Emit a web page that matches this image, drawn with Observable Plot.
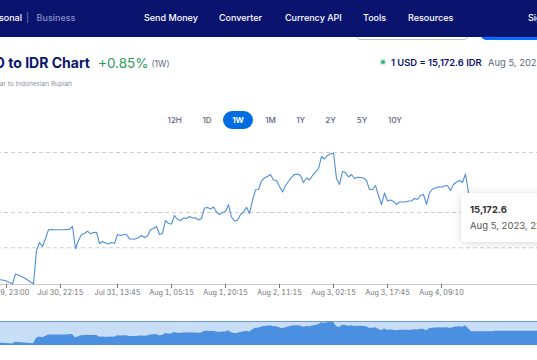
<!DOCTYPE html>
<html>
<head>
<meta charset="utf-8">
<script src="https://cdn.jsdelivr.net/npm/d3@7"></script>
<script src="https://cdn.jsdelivr.net/npm/@observablehq/plot@0.6"></script>
<style>
  html, body { margin:0; padding:0; }
  body { width:537px; height:360px; overflow:hidden; position:relative; background:#fff; font-family: Inter, "Noto Sans", sans-serif; }
  .abs { position:absolute; white-space:nowrap; }
  #nav { position:absolute; left:0; top:0; width:537px; height:37px; background:#0a146e; z-index:2; }
  .nv { position:absolute; color:#fff; font-size:9px; font-weight:500; line-height:12px; top:11.8px; white-space:nowrap; }
  .tb { position:absolute; font-size:8px; color:#5c667b; line-height:10px; top:115px; transform:translateX(-50%); font-weight:500; }
  #main, #navi { position:absolute; width:622px; }
  #main svg, #navi svg { max-width:none !important; display:block; }
  #main { left:-63px; top:140px; height:174px; }
  #navi { left:-63px; top:320px; height:25px; }
</style>
</head>
<body>
<div id="nav">
  <span class="nv" style="right:515px;">Personal</span>
  <span class="nv" style="left:26px;color:#7c84b8;font-weight:400;">|</span>
  <span class="nv" style="left:36.6px;color:#8a91c4;">Business</span>
  <span class="nv" style="left:144px;">Send Money</span>
  <span class="nv" style="left:219px;">Converter</span>
  <span class="nv" style="left:285px;">Currency API</span>
  <span class="nv" style="left:363px;">Tools</span>
  <span class="nv" style="left:408px;">Resources</span>
  <span class="nv" style="left:528px;">Sign in</span>
</div>
<div class="abs" style="left:356px;top:22px;width:111px;height:16px;border:1px solid #b8bfd0;border-radius:5px;z-index:1;"></div>
<div class="abs" style="left:481px;top:22px;width:80px;height:18px;background:#0a6cff;border-radius:5px;z-index:1;"></div>

<div class="abs" style="right:447px;top:54px;font-size:14px;font-weight:700;color:#0a146e;line-height:18px;">USD to IDR Chart</div>
<div class="abs" style="left:98px;top:54px;font-size:13.5px;font-weight:400;color:#2e9a5e;line-height:18px;">+0.85%</div>
<div class="abs" style="left:151.5px;top:57.5px;font-size:8.5px;color:#5c667b;line-height:12px;">(1W)</div>
<div class="abs" style="right:465px;top:79.8px;font-size:6.5px;color:#8a8f99;line-height:8px;">US Dollar to Indonesian Rupiah</div>

<div class="abs" style="left:381px;top:60px;width:4px;height:4px;border-radius:50%;background:#36b37e;box-shadow:0 0 0 1.5px #d6f0e2;"></div>
<div class="abs" id="rate" style="left:391px;top:56.5px;font-size:9.4px;font-weight:600;color:#0a146e;line-height:12px;"></div>
<div class="abs" style="left:488px;top:56.5px;font-size:9.4px;color:#5c667b;line-height:12px;">Aug 5, 2023, 22:45 UTC</div>

<div class="abs" style="left:223px;top:111px;width:30px;height:18px;border-radius:9px;background:#006ce0;"></div>
<div id="btns"></div>

<div id="main"></div>
<div id="navi"></div>

<div class="abs" id="tip" style="left:461px;top:193px;width:130px;height:49px;background:#fff;border-radius:4px;box-shadow:0 1px 8px rgba(0,0,0,0.16);z-index:3;">
  <div id="tipv" style="position:absolute;left:9px;top:11px;font-size:9.5px;font-weight:700;color:#333;line-height:12px;"></div>
  <div style="position:absolute;left:9px;top:27px;font-size:9.5px;color:#555;line-height:12px;">Aug 5, 2023, 22:45</div>
</div>

<script>
// ---- data ----
const rangeButtons = ["12H", "1D", "1W", "1M", "1Y", "2Y", "5Y", "10Y"];
const activeRange = "1W";

// USD→IDR rate, one value per sample (evenly spaced samples, index-based x)
const rates = [
  15051.5, 15049.7, 15049.0, 15048.0, 15045.8, 15043.7, 15057.9, 15056.5, 15054.3, 15052.2,
  15049.4, 15046.5, 15044.0, 15091.2, 15102.5, 15096.8, 15108.2, 15120.5, 15120.9, 15120.6,
  15120.5, 15120.5, 15120.5, 15120.9, 15121.3, 15125.2, 15093.6, 15105.3, 15113.8, 15115.3,
  15118.5, 15114.8, 15116.7, 15117.1, 15101.1, 15103.9, 15101.8, 15100.4, 15102.5, 15101.1,
  15113.8, 15112.4, 15113.8, 15113.8, 15107.7, 15107.5, 15107.5, 15109.6, 15112.4, 15109.6,
  15111.7, 15120.5, 15122.3, 15125.2, 15113.8, 15115.3, 15133.7, 15129.4, 15128.7, 15140.8,
  15135.1, 15133.7, 15137.5, 15136.5, 15139.3, 15137.2, 15137.5, 15134.4, 15136.5, 15151.4,
  15152.1, 15150.0, 15152.8, 15145.7, 15142.2, 15145.0, 15146.4, 15156.3, 15138.6, 15133.0,
  15134.0, 15142.2, 15145.7, 15152.5, 15143.6, 15162.0, 15177.2, 15177.6, 15189.6, 15193.9,
  15196.0, 15198.8, 15191.0, 15190.3, 15181.8, 15174.0, 15183.3, 15188.9, 15195.0, 15198.8,
  15199.5, 15197.4, 15187.5, 15193.9, 15191.3, 15197.4, 15202.1, 15207.3, 15224.3, 15220.8,
  15225.8, 15228.2, 15229.0, 15193.2, 15184.7, 15203.1, 15201.7, 15195.3, 15198.8, 15193.2,
  15195.0, 15194.6, 15193.9, 15190.3, 15177.6, 15177.6, 15183.3, 15169.1, 15156.3, 15172.6,
  15161.3, 15162.7, 15160.6, 15156.3, 15159.9, 15159.9, 15159.9, 15161.3, 15161.3, 15164.8,
  15163.4, 15169.1, 15170.5, 15156.3, 15173.3, 15178.3, 15179.7, 15181.4, 15180.7, 15182.5,
  15183.3, 15176.2, 15184.7, 15188.2, 15190.3, 15187.5, 15199.5, 15173.5,
  15147.0, 15147.0, 15147.0, 15147.0, 15147.0, 15147.0, 15147.0, 15147.0,
  15152.0, 15152.0, 15152.0, 15152.0, 15152.0, 15152.0, 15152.0, 15152.0, 15152.0,
  15152.0, 15152.0, 15152.0, 15152.0, 15152.0, 15152.0, 15152.0, 15152.0, 15152.0,
  15172.6
];

// x tick positions (sample index) and their labels
const xTickIndex = [3, 21, 40, 58, 76, 94, 112, 130, 148];
const xTickLabels = ["Jul 29, 23:00", "Jul 30, 22:15", "Jul 31, 13:45", "Aug 1, 05:15", "Aug 1, 20:15",
                     "Aug 2, 11:15", "Aug 3, 02:15", "Aug 3, 17:45", "Aug 4, 09:10"];

// y scale (labels sit off the left edge of the crop)
const yDomain = [15043, 15230];
const yTicks = [15095, 15145, 15230];
const navDomain = [15030, 15236];

// ---- build ----
const fmt = d3.format(",.1f");
const last = rates[rates.length - 1];
document.getElementById("rate").textContent = `1 USD = ${fmt(last)} IDR`;
document.getElementById("tipv").textContent = fmt(last);

const btnX = [174.7, 207, 238, 270.5, 300.7, 330.5, 362, 395];
const btns = document.getElementById("btns");
rangeButtons.forEach((b, i) => {
  const s = document.createElement("span");
  s.className = "tb";
  s.textContent = b;
  s.style.left = btnX[i] + "px";
  if (b === activeRange) { s.style.color = "#fff"; s.style.fontWeight = "700"; }
  btns.appendChild(s);
});

const xIdx = (d, i) => i;
const xDom = [0, rates.length - 1];

const main = Plot.plot({
  width: 622, height: 174,
  marginLeft: 60, marginRight: 10, marginTop: 12, marginBottom: 30,
  style: { fontFamily: "Inter, 'Noto Sans', sans-serif", fontSize: "7.2px", background: "transparent", overflow: "visible", maxWidth: "none" },
  x: { domain: xDom, axis: null },
  y: { domain: yDomain, axis: null },
  marks: [
    Plot.gridY(yTicks, { stroke: "#cfcfcf", strokeOpacity: 1, strokeDasharray: "4,3" }),
    Plot.ruleY([yDomain[0]], { stroke: "#c9c9c9" }),
    Plot.axisX({ ticks: xTickIndex, tickFormat: d => xTickLabels[xTickIndex.indexOf(d)], tickSize: 4, tickPadding: 1.5, fontSize: 7.2, color: "#727272", anchor: "bottom" }),
    Plot.lineY(rates, { x: xIdx, y: d => d, stroke: "#4d8fd8", strokeWidth: 1.1 })
  ]
});
document.getElementById("main").appendChild(main);

const navi = Plot.plot({
  width: 622, height: 25,
  marginLeft: 60, marginRight: 10, marginTop: 1, marginBottom: 0,
  style: { background: "transparent", maxWidth: "none" },
  x: { domain: xDom, axis: null },
  y: { domain: navDomain, axis: null },
  marks: [
    Plot.frame({ fill: "#c8ddf6", stroke: "none" }),
    Plot.areaY(rates, { x: xIdx, y1: () => navDomain[0], y2: d => d, fill: "#4b8fe0" }),
    Plot.ruleY([navDomain[1]], { stroke: "#6b9bd6" })
  ]
});
document.getElementById("navi").appendChild(navi);
</script>
</body>
</html>
